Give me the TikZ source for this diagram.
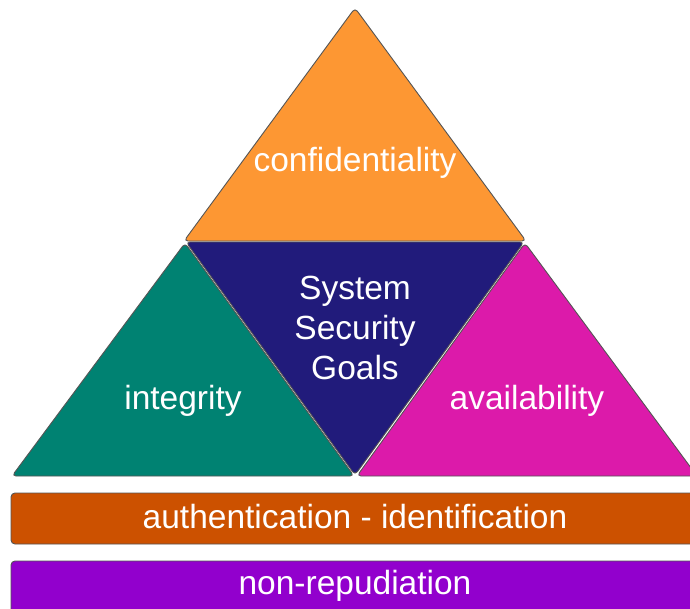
\documentclass[tikz,border=0pt]{standalone}
\usepackage{fontspec}
\setmainfont{Liberation Sans}
\definecolor{cOrange}{HTML}{FD9733}
\definecolor{cTeal}{HTML}{008272}
\definecolor{cNavy}{HTML}{211B7B}
\definecolor{cMagenta}{HTML}{DC1AAA}
\definecolor{cBarOrange}{HTML}{CC5100}
\definecolor{cPurple}{HTML}{9200CD}
\definecolor{cEdge}{HTML}{555555}
\begin{document}
\begin{tikzpicture}[x=1pt,y=-1pt,
  piece/.style={draw=cEdge,line width=0.9pt,rounded corners=4pt,line join=round},
  lbl/.style={text=white,font=\fontsize{33.5}{40}\selectfont,align=center,inner sep=0pt}]
\useasboundingbox (0,0) rectangle (690,608);
\fill[white] (0,0) rectangle (690,608);
% triangles
\draw[piece,fill=cOrange] (355,8) -- (526,241) -- (184,241) -- cycle;
\draw[piece,fill=cNavy] (186,242) -- (524,242) -- (355,475) -- cycle;
\draw[piece,fill=cTeal] (185,243) -- (354,476) -- (12,476) -- cycle;
\draw[piece,fill=cMagenta] (525,243) -- (697,476) -- (357,476) -- cycle;
% bars
\draw[piece,fill=cBarOrange] (11,493) rectangle (699,544);
\draw[piece,fill=cPurple] (11,561) rectangle (699,620);
% labels
\node[lbl] (conf) at (355,163) {confidentiality};
\node[lbl] (goals) at (355,328) {System\\Security\\Goals};
\node[lbl] (integ) at (183,401) {integrity};
\node[lbl] (avail) at (527,401) {availability};
\node[lbl] (auth) at (355,517) {authentication - identification};
\node[lbl] (nonrep) at (355,586) {non-repudiation};
\end{tikzpicture}
\end{document}
